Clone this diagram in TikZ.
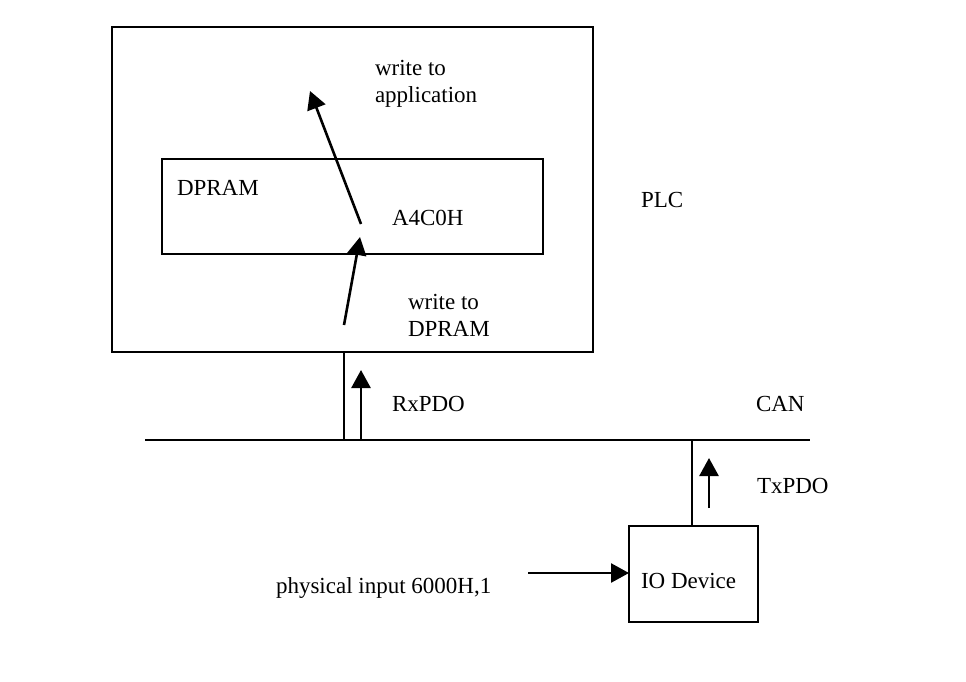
\documentclass[tikz,border=0pt]{standalone}
\usepackage{fontspec}
\setmainfont{Liberation Serif}
\usetikzlibrary{arrows.meta}
\begin{document}
\begin{tikzpicture}[x=1pt,y=-1pt, line width=2pt,
  box/.style={draw, line width=2pt, inner sep=0pt, outer sep=0pt},
  lbl/.style={anchor=base west, inner sep=0pt, outer sep=0pt, align=left, font=\fontsize{23}{27}\selectfont},
  arr/.style={-{Triangle[length=18pt,width=19pt]}, line width=2.6pt}]
\useasboundingbox (0,0) rectangle (966,681);
% boxes
\node[box, minimum width=481pt, minimum height=325pt] (plc) at (352.5,189.5) {};
\node[box, minimum width=381pt, minimum height=95pt] (dpram) at (352.5,206.5) {};
\node[box, minimum width=129pt, minimum height=96pt] (io) at (693.5,574) {};
% bus
\coordinate (busL) at (145,440);
\coordinate (busR) at (810,440);
\draw (busL) -- (busR);
\coordinate (rxtap) at (344,440);
\coordinate (txtap) at (692,440);
\draw (plc.south -| rxtap) -- (rxtap);
\draw (io.north -| txtap) -- (txtap);
% arrows
\coordinate (rx0) at (361,440);
\coordinate (rx1) at (361,370);
\draw[arr] (rx0) -- (rx1);
\coordinate (tx0) at (709,508);
\coordinate (tx1) at (709,458);
\draw[arr] (tx0) -- (tx1);
\coordinate (in0) at (528,573);
\draw[arr] (in0) -- (in0 -| io.west);
\coordinate (w1a) at (344,325);
\coordinate (w1b) at (360,237);
\draw[arr] (w1a) -- (w1b);
\coordinate (w2a) at (361,224);
\coordinate (w2b) at (310,91);
\draw[arr] (w2a) -- (w2b);
% labels
\node[lbl] (tapp) at (375,102) {write to\\application};
\node[lbl] (tdpram) at (177,195) {DPRAM};
\node[lbl] (taddr) at (392,225) {A4C0H};
\node[lbl] (twd) at (408,336) {write to\\DPRAM};
\node[lbl] (tplc) at (641,207) {PLC};
\node[lbl] (trx) at (392,411) {RxPDO};
\node[lbl] (tcan) at (756,411) {CAN};
\node[lbl] (ttx) at (757,493) {TxPDO};
\node[lbl] (tio) at (641,588) {IO Device};
\node[lbl] (tin) at (276,593) {physical input 6000H,1};
\end{tikzpicture}
\end{document}
